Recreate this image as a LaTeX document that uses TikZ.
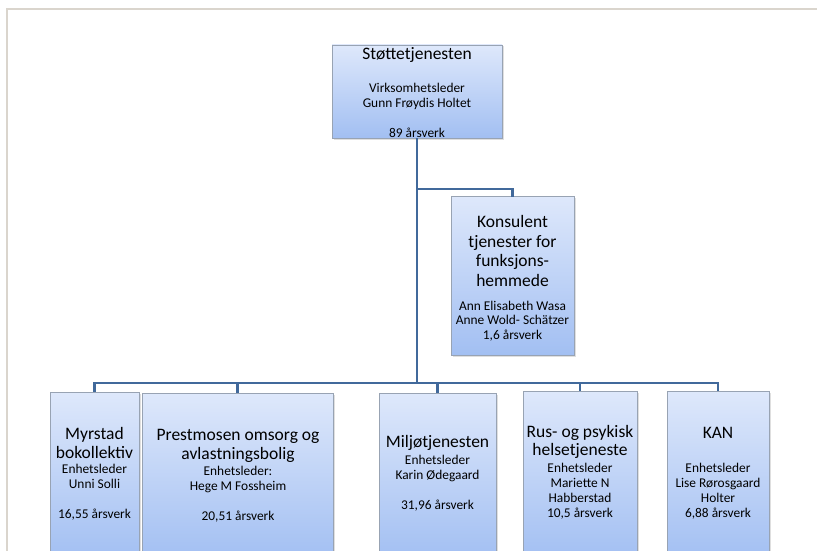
\documentclass[tikz,border=0pt]{standalone}
\usepackage{fontspec}
\setmainfont{Carlito}
\usetikzlibrary{shadows}
\definecolor{bTop}{HTML}{DEE8FB}
\definecolor{bBot}{HTML}{A2BFF2}
\definecolor{bEdge}{HTML}{98A3B3}
\definecolor{conC}{HTML}{41699B}
\definecolor{frameC}{HTML}{DAD5CD}
\tikzset{
  box/.style={draw=bEdge, line width=0.9pt, top color=bTop, bottom color=bBot, inner sep=0pt,
    drop shadow={shadow xshift=1.5pt, shadow yshift=-1.5pt, opacity=0.25}},
  bigtxt/.style={font=\fontsize{17.5}{19.5}\selectfont, align=center, inner sep=0pt, text=black},
  smalltxt/.style={font=\fontsize{13.4}{15}\selectfont, align=center, inner sep=0pt, text=black},
  conn/.style={draw=conC, line width=2.2pt},
}
\begin{document}
\begin{tikzpicture}[x=1pt,y=-1pt]
\useasboundingbox (0,0) rectangle (817,551);
\clip (0,0) rectangle (817,551);
\fill[white] (0,0) rectangle (817,551);
% frame
\draw[frameC, line width=1.5pt] (7,551) -- (7,9) -- (817,9);

% boxes
\node[box, minimum width=170pt, minimum height=93pt] (top) at (417,91.5) {};
\node[box, minimum width=123pt, minimum height=159pt] (kons) at (512.5,275.5) {};
\node[box, minimum width=89pt, minimum height=168pt] (myr) at (94.5,476) {};
\node[box, minimum width=191pt, minimum height=167pt] (pre) at (237.5,476.5) {};
\node[box, minimum width=117pt, minimum height=167pt] (mil) at (437.5,476.5) {};
\node[box, minimum width=114pt, minimum height=169pt] (rus) at (580,475.5) {};
\node[box, minimum width=102pt, minimum height=169pt] (kan) at (718,475.5) {};

% connectors
\coordinate (kbr) at (417,189);
\coordinate (busL) at (94.5,383);
\coordinate (busR) at (718,383);
\draw[conn] (top.south) -- (top.south |- busL);
\draw[conn, line cap=rect] (kbr) -| (kons.north);
\draw[conn, line cap=rect] (busL) -- (busR);
\draw[conn] (myr.north) -- (myr.north |- busL);
\draw[conn] (pre.north) -- (pre.north |- busL);
\draw[conn] (mil.north) -- (mil.north |- busL);
\draw[conn] (rus.north) -- (rus.north |- busL);
\draw[conn] (kan.north) -- (kan.north |- busL);

% texts
\node[bigtxt] (topA) at (417,55) {Støttetjenesten};
\node[smalltxt] (topB) at (417,110) {Virksomhetsleder\\Gunn Frøydis Holtet\\[15pt]89 årsverk};

\node[bigtxt] (konsA) at (512.5,251) {Konsulent\\tjenester for\\funksjons-\\hemmede};
\node[smalltxt, font=\fontsize{13.4}{14.5}\selectfont] (konsB) at (512.5,321) {Ann Elisabeth Wasa\\Anne Wold- Schätzer\\1,6 årsverk};

\node[bigtxt] (myrA) at (94.5,443) {Myrstad\\bokollektiv};
\node[smalltxt] (myrB) at (94.5,492) {Enhetsleder\\Unni Solli\\[15pt]16,55 årsverk};

\node[bigtxt] (preA) at (238,446) {Prestmosen omsorg og\\avlastningsbolig};
\node[smalltxt] (preB) at (238,494) {Enhetsleder:\\Hege M Fossheim\\[15pt]20,51 årsverk};

\node[bigtxt] (milA) at (437.5,443) {Miljøtjenesten};
\node[smalltxt] (milB) at (437.5,483) {Enhetsleder\\Karin Ødegaard\\[15pt]31,96 årsverk};

\node[bigtxt, font=\fontsize{17.5}{18.5}\selectfont] (rusA) at (580,442) {Rus- og psykisk\\helsetjeneste};
\node[smalltxt] (rusB) at (580,491) {Enhetsleder\\Mariette N\\Habberstad\\10,5 årsverk};

\node[bigtxt] (kanA) at (718,433) {KAN};
\node[smalltxt] (kanB) at (718,491) {Enhetsleder\\Lise Rørosgaard\\Holter\\6,88 årsverk};
\end{tikzpicture}
\end{document}
